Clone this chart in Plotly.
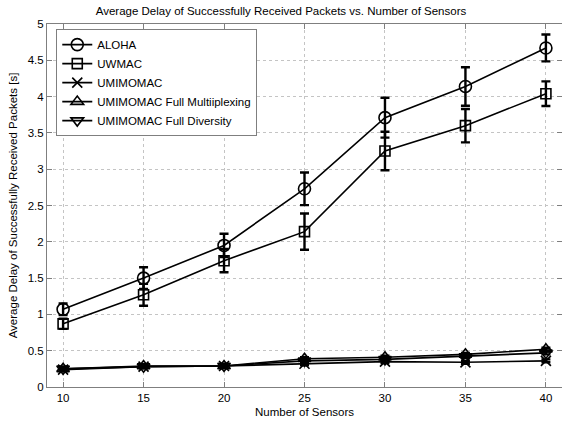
import plotly.graph_objects as go

sensors = [10, 15, 20, 25, 30, 35, 40]

aloha = [1.07, 1.50, 1.95, 2.73, 3.71, 4.14, 4.67]
aloha_err = [0.08, 0.15, 0.16, 0.225, 0.275, 0.265, 0.185]

uwmac = [0.87, 1.27, 1.74, 2.14, 3.25, 3.60, 4.04]
uwmac_err = [0.07, 0.15, 0.16, 0.25, 0.265, 0.23, 0.17]

umimomac = [0.24, 0.28, 0.29, 0.32, 0.35, 0.34, 0.36]
umimomac_err = [0.02, 0.02, 0.02, 0.02, 0.02, 0.02, 0.02]

full_mux = [0.25, 0.29, 0.29, 0.39, 0.41, 0.45, 0.52]
full_mux_err = [0.02, 0.02, 0.02, 0.02, 0.02, 0.02, 0.02]

full_div = [0.25, 0.28, 0.29, 0.36, 0.38, 0.42, 0.47]
full_div_err = [0.02, 0.02, 0.02, 0.02, 0.02, 0.02, 0.02]

series = [
    ("ALOHA", aloha, aloha_err, "circle-open", 12),
    ("UWMAC", uwmac, uwmac_err, "square-open", 10),
    ("UMIMOMAC", umimomac, umimomac_err, "x-thin-open", 10),
    ("UMIMOMAC Full Multiiplexing", full_mux, full_mux_err, "triangle-up-open", 11),
    ("UMIMOMAC Full Diversity", full_div, full_div_err, "triangle-down-open", 11),
]

fig = go.Figure()
for name, vals, errs, sym, size in series:
    fig.add_trace(go.Scatter(
        x=sensors, y=vals, name=name, mode="lines+markers",
        line=dict(color="black", width=1.6),
        marker=dict(symbol=sym, size=size, color="black",
                    line=dict(color="black", width=1.6)),
        error_y=dict(type="data", array=errs, visible=True,
                     color="black", thickness=2.4, width=4.5),
    ))

font_family = "Liberation Sans, Arial, sans-serif"
fs = 11.5
axis_common = dict(
    showgrid=True, gridcolor="#c4c4c4", griddash="dot", gridwidth=1,
    showline=True, linecolor="#7f7f7f", linewidth=1, mirror="ticks",
    ticks="inside", ticklen=5, tickcolor="#7f7f7f",
    zeroline=False, tickfont=dict(size=fs, color="black", family=font_family),
)

fig.update_layout(
    width=562, height=423,
    margin=dict(l=47, r=0, t=24, b=36),
    paper_bgcolor="white", plot_bgcolor="white",
    font=dict(family=font_family, size=fs, color="black"),
    title=dict(text="Average Delay of Successfully Received Packets vs. Number of Sensors",
               x=0.5, xanchor="center", y=1 - 11 / 423, yanchor="middle",
               font=dict(size=fs, color="black")),
    xaxis=dict(range=[9, 41], tickvals=sensors,
               title=dict(text="Number of Sensors", standoff=5,
                          font=dict(size=fs)),
               **axis_common),
    yaxis=dict(range=[0, 5], dtick=0.5,
               title=dict(text="Average Delay of Successfully Received Packets [s]",
                          standoff=7, font=dict(size=fs)),
               **axis_common),
    legend=dict(x=0.018, y=0.986, xanchor="left", yanchor="top",
                bgcolor="white", bordercolor="#7f7f7f", borderwidth=1,
                font=dict(size=fs, color="black"), tracegroupgap=0,
                itemwidth=30),
    showlegend=True,
)

fig.write_html("out.html")
